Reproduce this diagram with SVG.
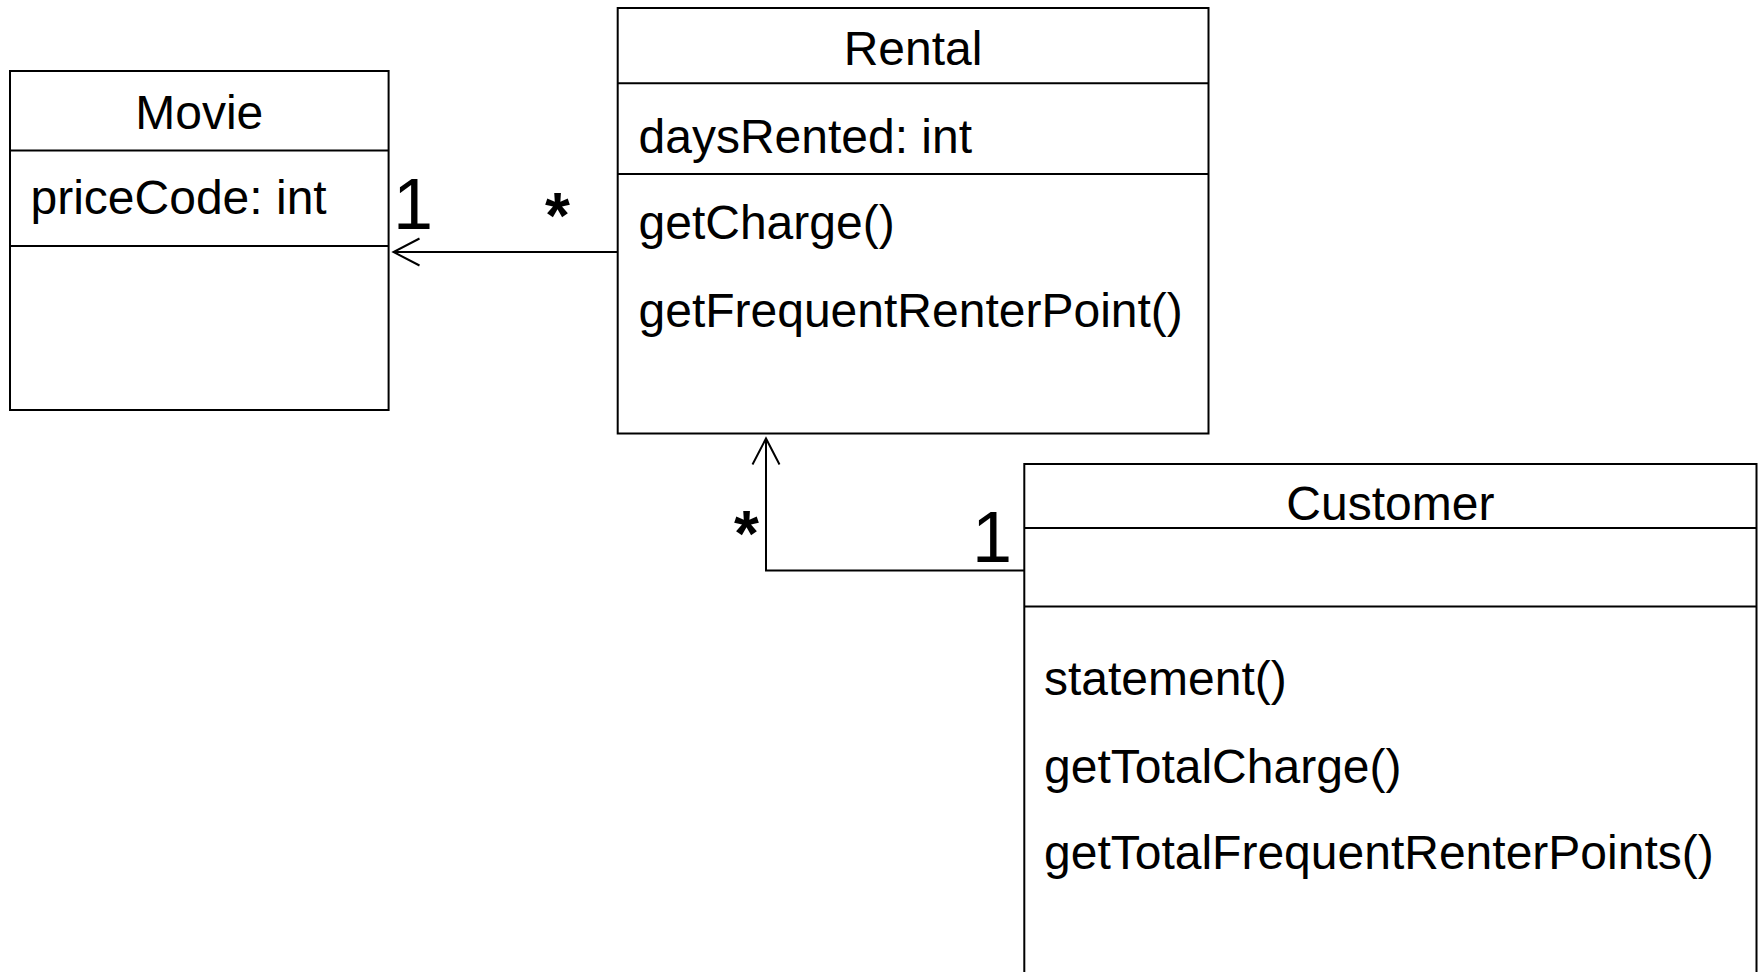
<svg xmlns="http://www.w3.org/2000/svg" width="1761" height="972" viewBox="0 0 1761 972">
  <style>
    .box { fill: #ffffff; stroke: #000000; stroke-width: 2; }
    .sep { stroke: #000000; stroke-width: 2; }
    .txt { font-family: "Liberation Sans", Arial, sans-serif; font-size: 48px; fill: #000000; }
    .title { text-anchor: middle; }
    .mult { font-family: "Liberation Sans", Arial, sans-serif; font-size: 72px; fill: #000000; }
    .star { font-family: "Liberation Sans", Arial, sans-serif; font-size: 64px; font-weight: bold; fill: #000000; }
    .edge { fill: none; stroke: #000000; stroke-width: 2; }
  </style>
  <defs>
    <marker id="open-arrow" markerUnits="userSpaceOnUse" viewBox="-30 -16 32 32" refX="0" refY="0" markerWidth="32" markerHeight="32" orient="auto" overflow="visible">
      <path d="M-26,-13.5 L0,0 L-26,13.5" fill="none" stroke="#000000" stroke-width="2"/>
    </marker>
  </defs>
  <rect width="1761" height="972" fill="#ffffff"/>

  <!-- Movie class -->
  <g id="movie">
    <rect class="box" x="10" y="71" width="378.6" height="339"/>
    <line class="sep" x1="10" y1="150.5" x2="388.6" y2="150.5"/>
    <line class="sep" x1="10" y1="246" x2="388.6" y2="246"/>
    <text class="txt title" x="199.3" y="128.5">Movie</text>
    <text class="txt" x="30.5" y="214">priceCode: int</text>
  </g>

  <!-- Rental class -->
  <g id="rental">
    <rect class="box" x="617.7" y="8" width="590.8" height="425.5"/>
    <line class="sep" x1="617.7" y1="83.2" x2="1208.5" y2="83.2"/>
    <line class="sep" x1="617.7" y1="174.1" x2="1208.5" y2="174.1"/>
    <text class="txt title" x="913" y="65">Rental</text>
    <text class="txt" x="638.5" y="152.5">daysRented: int</text>
    <text class="txt" x="638.5" y="239">getCharge()</text>
    <text class="txt" x="638.5" y="326.5">getFrequentRenterPoint()</text>
  </g>

  <!-- Customer class -->
  <g id="customer">
    <rect class="box" x="1024.3" y="464" width="732.2" height="530"/>
    <line class="sep" x1="1024.3" y1="528" x2="1756.5" y2="528"/>
    <line class="sep" x1="1024.3" y1="606.5" x2="1756.5" y2="606.5"/>
    <text class="txt title" x="1390.4" y="520">Customer</text>
    <text class="txt" x="1044" y="695">statement()</text>
    <text class="txt" x="1044" y="782.5">getTotalCharge()</text>
    <text class="txt" x="1044" y="869">getTotalFrequentRenterPoints()</text>
  </g>

  <!-- Associations -->
  <g id="connectors">
    <path class="edge" d="M617.7,252 H393.5" marker-end="url(#open-arrow)"/>
    <path class="edge" d="M1024.3,570.5 H766 V438.5" marker-end="url(#open-arrow)"/>
    <text class="mult" x="393" y="228.5">1</text>
    <text class="star" x="545" y="238">*</text>
    <text class="mult" x="972" y="562">1</text>
    <text class="star" x="734" y="556">*</text>
  </g>
</svg>
